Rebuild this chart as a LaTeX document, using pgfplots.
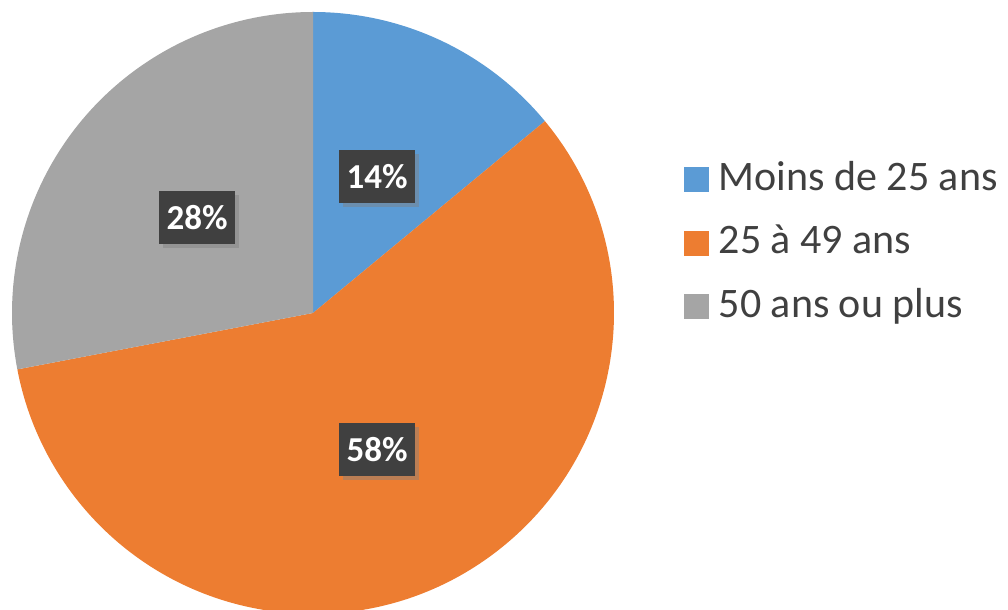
\documentclass[border=0pt]{standalone}
\usepackage{pgfplots}
\pgfplotsset{compat=1.18}
\usepackage{pgfplotstable}
\usepackage{fontspec}
\setmainfont{Carlito}
\usetikzlibrary{shadows}

\definecolor{pieblue}{HTML}{5B9BD5}
\definecolor{pieorange}{HTML}{ED7D31}
\definecolor{piegray}{HTML}{A5A5A5}
\definecolor{boxgray}{HTML}{404040}
\definecolor{textgray}{HTML}{404040}

% share of each age group, in percent
\pgfplotstableread{
group value
1 14
2 58
3 28
}\agedata

\begin{document}
\begin{tikzpicture}
\pgfplotstablegetelem{0}{value}\of\agedata \let\va\pgfplotsretval
\pgfplotstablegetelem{1}{value}\of\agedata \let\vb\pgfplotsretval
\pgfplotstablegetelem{2}{value}\of\agedata \let\vc\pgfplotsretval
% start at 12 o'clock, go clockwise
\pgfmathsetmacro\aA{90}
\pgfmathsetmacro\aB{\aA-3.6*\va}
\pgfmathsetmacro\aC{\aB-3.6*\vb}
\pgfmathsetmacro\aD{\aC-3.6*\vc}
\pgfmathsetmacro\mA{(\aA+\aB)/2}
\pgfmathsetmacro\mB{(\aB+\aC)/2}
\pgfmathsetmacro\mC{(\aC+\aD)/2}
\def\cx{313}\def\cy{-313}\def\R{301}
\begin{axis}[
    x=0.5pt, y=0.5pt,
    xmin=0, xmax=1008, ymin=-610, ymax=0,
    hide axis,
    legend style={at={(axis cs:684,-156)}, anchor=north west,
        draw=none, fill=none, inner sep=0pt, row sep=8.25pt,
        font=\fontsize{21}{24}\selectfont\color{textgray},
        nodes={inner sep=2pt, text height=15pt, text depth=4.5pt}},
    legend cell align=left,
    legend image code/.code={\fill[#1] (0pt,-6pt) rectangle (12pt,6pt);
        \path[draw=none, fill=none] (0pt,0pt) rectangle (15pt,0pt);},
]
\coordinate (bl) at (axis cs:0,-610);
\coordinate (tr) at (axis cs:1008,0);

\fill[pieblue] (axis cs:\cx,\cy) -- (axis cs:{\cx+\R*cos(\aA)},{\cy+\R*sin(\aA)})
    arc[start angle=\aA, end angle=\aB, radius=\R] -- cycle;
\fill[pieorange] (axis cs:\cx,\cy) -- (axis cs:{\cx+\R*cos(\aB)},{\cy+\R*sin(\aB)})
    arc[start angle=\aB, end angle=\aC, radius=\R] -- cycle;
\fill[piegray] (axis cs:\cx,\cy) -- (axis cs:{\cx+\R*cos(\aC)},{\cy+\R*sin(\aC)})
    arc[start angle=\aC, end angle=\aD, radius=\R] -- cycle;

\tikzset{pielabel/.style={fill=boxgray, text=white, inner sep=0pt,
    minimum width=38pt, minimum height=26.5pt,
    font=\fontsize{17.5}{19}\selectfont\bfseries,
    drop shadow={shadow xshift=2pt, shadow yshift=-2pt, opacity=0.45}}}
\node[pielabel] at (axis cs:{\cx+0.5*\R*cos(\mA)},{\cy+0.5*\R*sin(\mA)}) {\va\%};
\node[pielabel] at (axis cs:{\cx+0.5*\R*cos(\mB)},{\cy+0.5*\R*sin(\mB)}) {\vb\%};
\node[pielabel] at (axis cs:{\cx+0.5*\R*cos(\mC)},{\cy+0.5*\R*sin(\mC)}) {\vc\%};

\addlegendimage{pieblue}
\addlegendentry{Moins de 25 ans}
\addlegendimage{pieorange}
\addlegendentry{25 à 49 ans}
\addlegendimage{piegray}
\addlegendentry{50 ans ou plus}
\end{axis}
\pgfresetboundingbox
\path (bl) rectangle (tr);
\end{tikzpicture}
\end{document}
